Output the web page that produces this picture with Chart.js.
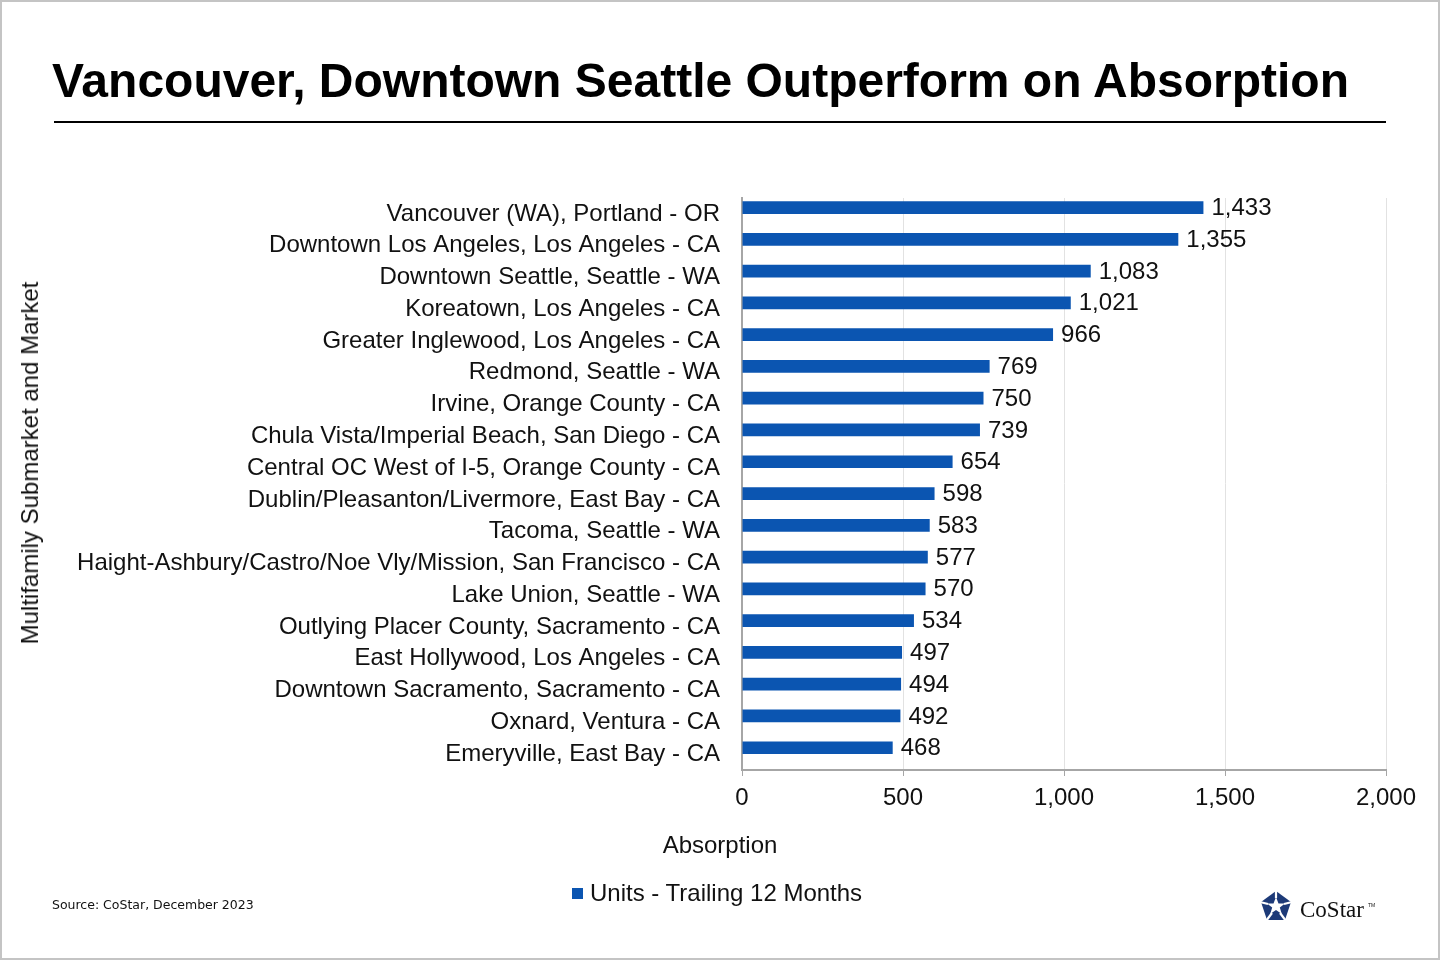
<!DOCTYPE html>
<html>
<head>
<meta charset="utf-8">
<script src="https://cdn.jsdelivr.net/npm/chart.js@4"></script>
<style>
  html, body { margin: 0; padding: 0; }
  body {
    width: 1440px; height: 960px; position: relative; overflow: hidden;
    background: #fff; font-family: "Liberation Sans", Arial, sans-serif; color: #111;
    box-sizing: border-box; border: 2px solid #c4c4c4;
  }
  #wrap { position: absolute; left: -2px; top: -2px; width: 1440px; height: 960px; }
  .txt { position: absolute; white-space: nowrap; }
  #title { left: 50px; top: 51px; font-size: 48px; font-weight: bold; color: #000; }
  #rule { position: absolute; left: 52px; top: 119px; width: 1332px; height: 2px; background: #000; }
  #ytitle { left: 28px; top: 461px; font-size: 24px; transform: translate(-50%, -50%) rotate(-90deg); }
  #xtitle { left: 718px; top: 843px; font-size: 24px; transform: translate(-50%, -50%); }
  #legend { left: 570px; top: 877px; font-size: 24px; line-height: 28px; }
  #legend span { display: inline-block; width: 11px; height: 11px; background: #0b55b1; margin-right: 7px; vertical-align: 2px; }
  #source { left: 50px; top: 895px; font-family: "DejaVu Sans", sans-serif; font-size: 12.5px; }
  #logo { position: absolute; left: 1256px; top: 886px; }
</style>
</head>
<body>
<div id="wrap"><canvas id="chart" width="1440" height="960"></canvas></div>
<div id="title" class="txt">Vancouver, Downtown Seattle Outperform on Absorption</div>
<div id="rule"></div>
<div id="ytitle" class="txt">Multifamily Submarket and Market</div>
<div id="xtitle" class="txt">Absorption</div>
<div id="legend" class="txt"><span></span>Units - Trailing 12 Months</div>
<div id="source" class="txt">Source: CoStar, December 2023</div>
<svg id="logo" width="130" height="40" viewBox="0 0 130 40">
  <polygon fill="#1d3a78" points="18,3 33,14 27,32 9,32 3,14"/>
  <polygon fill="#fff" points="18,9 20.5,15.5 27,15.5 21.8,19.6 23.8,26 18,22 12.2,26 14.2,19.6 9,15.5 15.5,15.5"/>
  <g stroke="#fff" stroke-width="2.2">
    <line x1="18" y1="2" x2="18" y2="10"/>
    <line x1="34" y1="14" x2="26" y2="16"/>
    <line x1="28" y1="33" x2="22" y2="25"/>
    <line x1="8" y1="33" x2="14" y2="25"/>
    <line x1="2" y1="14" x2="10" y2="16"/>
  </g>
  <text x="42" y="29" font-family="Liberation Serif, serif" font-size="23" fill="#111">CoStar</text>
  <text x="110" y="19" font-family="Liberation Sans, sans-serif" font-size="5" fill="#111">TM</text>
</svg>
<script>
const categories = [
  "Vancouver (WA), Portland - OR",
  "Downtown Los Angeles, Los Angeles - CA",
  "Downtown Seattle, Seattle - WA",
  "Koreatown, Los Angeles - CA",
  "Greater Inglewood, Los Angeles - CA",
  "Redmond, Seattle - WA",
  "Irvine, Orange County - CA",
  "Chula Vista/Imperial Beach, San Diego - CA",
  "Central OC West of I-5, Orange County - CA",
  "Dublin/Pleasanton/Livermore, East Bay - CA",
  "Tacoma, Seattle - WA",
  "Haight-Ashbury/Castro/Noe Vly/Mission, San Francisco - CA",
  "Lake Union, Seattle - WA",
  "Outlying Placer County, Sacramento - CA",
  "East Hollywood, Los Angeles - CA",
  "Downtown Sacramento, Sacramento - CA",
  "Oxnard, Ventura - CA",
  "Emeryville, East Bay - CA"
];
const units = [1433, 1355, 1083, 1021, 966, 769, 750, 739, 654, 598, 583, 577, 570, 534, 497, 494, 492, 468];
const xTicks = [0, 500, 1000, 1500, 2000];

const barColor = "#0b55b1";
const fmt = v => v.toLocaleString("en-US");

// value labels at the end of each bar
const valueLabels = {
  id: "valueLabels",
  afterDatasetsDraw(chart) {
    const ctx = chart.ctx;
    const meta = chart.getDatasetMeta(0);
    ctx.save();
    ctx.font = "24px 'Liberation Sans', Arial, sans-serif";
    ctx.fillStyle = "#111";
    ctx.textBaseline = "middle";
    ctx.textAlign = "left";
    meta.data.forEach((bar, i) => {
      ctx.fillText(fmt(units[i]), bar.x + 8, bar.y + 1);
    });
    ctx.restore();
  }
};

new Chart(document.getElementById("chart"), {
  type: "bar",
  data: {
    labels: categories,
    datasets: [
      {
        label: "Units - Trailing 12 Months",
        data: units,
        backgroundColor: barColor,
        barPercentage: 1,
        categoryPercentage: 0.8
      },
      {
        label: "",
        data: categories.map(() => null),
        backgroundColor: "rgba(0,0,0,0)",
        barPercentage: 1,
        categoryPercentage: 0.8
      }
    ]
  },
  options: {
    indexAxis: "y",
    responsive: false,
    animation: false,
    events: [],
    layout: { padding: { top: 198, left: 0, right: 54, bottom: 0 } },
    plugins: { legend: { display: false }, tooltip: { enabled: false } },
    scales: {
      x: {
        min: 0,
        max: 2000,
        afterBuildTicks: scale => { scale.ticks = xTicks.map(v => ({ value: v })); },
        afterFit: scale => { scale.height = 190; },
        grid: { color: "#e2e2e2", tickColor: "#a6a6a6", tickLength: 6, lineWidth: 1 },
        border: { color: "#a6a6a6", width: 2 },
        ticks: {
          callback: v => fmt(v),
          font: { family: "'Liberation Sans', Arial, sans-serif", size: 24 },
          color: "#111",
          padding: 8,
          maxRotation: 0
        }
      },
      y: {
        afterFit: scale => { scale.width = 742; },
        grid: { display: false, drawTicks: false },
        border: { color: "#a6a6a6", width: 2 },
        ticks: {
          font: { family: "'Liberation Sans', Arial, sans-serif", size: 24 },
          color: "#111",
          padding: 22,
          autoSkip: false
        }
      }
    }
  },
  plugins: [valueLabels]
});
</script>
</body>
</html>
